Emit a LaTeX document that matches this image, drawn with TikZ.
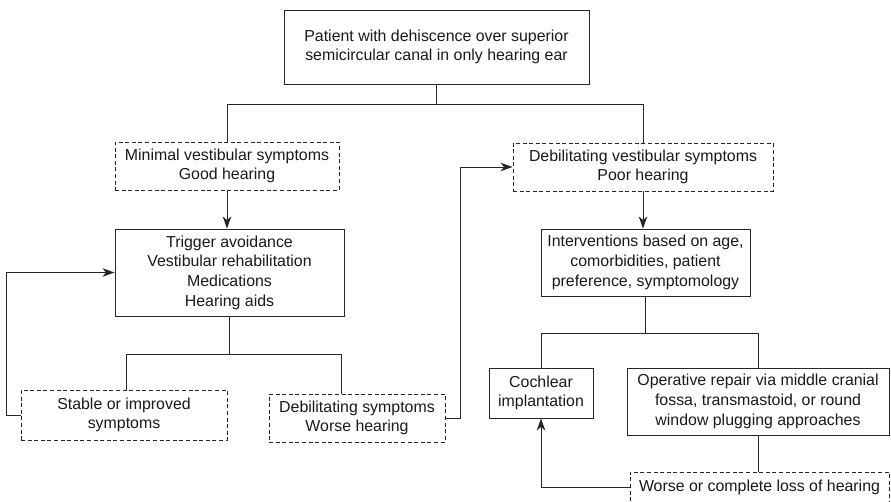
\documentclass[tikz,border=0pt]{standalone}
\usepackage{fontspec}
\setmainfont{Liberation Sans}
\usetikzlibrary{arrows.meta}

\begin{document}
\begin{tikzpicture}[
        x=1pt,
        y=-1pt,
        font=\fontsize{15.9}{19.7}\selectfont,
        line width=1pt,
        every node/.style={text=black!90, align=center, inner sep=0pt},
        solidbox/.style={draw=black!85, line width=0.95pt},
        dashbox/.style={draw=black!85, line width=0.95pt, dash pattern=on 4pt off 2.6pt},
        link/.style={draw=black!85, line width=1pt},
        flow/.style={draw=black!85, line width=1pt, -{Stealth[length=12pt,width=8.5pt,inset=3.5pt]}}
    ]
        \useasboundingbox (0,0) rectangle (891,501);

        % top of the tree
        \node[solidbox, minimum width=305pt, minimum height=74pt] (patient) at (436.5,47)
            {Patient with dehiscence over superior\\semicircular canal in only hearing ear};

        % the two presentations
        \node[dashbox, minimum width=224pt, minimum height=48pt] (mild) at (227,166)
            {Minimal vestibular symptoms\\Good hearing};
        \node[dashbox, minimum width=260pt, minimum height=48pt] (severe) at (643,167)
            {Debilitating vestibular symptoms\\Poor hearing};

        % left branch: conservative care
        \node[solidbox, minimum width=229pt, minimum height=87pt] (conserv) at (229.5,272.5)
            {Trigger avoidance\\Vestibular rehabilitation\\Medications\\Hearing aids};
        \node[dashbox, minimum width=206pt, minimum height=50pt] (stable) at (124,415)
            {Stable or improved\\symptoms};
        \node[dashbox, minimum width=176pt, minimum height=48pt] (worse) at (357,418)
            {Debilitating symptoms\\Worse hearing};

        % right branch: interventions
        \node[solidbox, minimum width=209pt, minimum height=67pt] (interv) at (645.5,262.5)
            {Interventions based on age,\\comorbidities, patient\\preference, symptomology};
        \node[solidbox, minimum width=104pt, minimum height=50pt] (cochlear) at (541,393)
            {Cochlear\\implantation};
        \node[solidbox, minimum width=262pt, minimum height=67pt] (repair) at (758,401.5)
            {Operative repair via middle cranial\\fossa, transmastoid, or round\\window plugging approaches};
        \node[dashbox, minimum width=259pt, minimum height=31pt] (loss) at (759.5,487.5)
            {Worse or complete loss of hearing};

        % connectors
        \draw[link] (patient.south) -- ++(0,20) -| (mild.north);
        \draw[link] (patient.south) -- ++(0,20) -| (severe.north);
        \draw[flow] (mild.south) -- (mild.south |- conserv.north);
        \draw[flow] (severe.south) -- (severe.south |- interv.north);

        \draw[link] (conserv.south) -- ++(0,38) -| ([xshift=2pt]stable.north);
        \draw[link] (conserv.south) -- ++(0,38) -| ([xshift=-16pt]worse.north);
        \draw[flow] (stable.west) -- ++(-14,0) |- (conserv.west);
        \draw[flow] (worse.east) -- ++(15,0) |- (severe.west);

        \draw[link] (interv.south) -- ++(0,37) -| (cochlear.north);
        \draw[link] (interv.south) -- ++(0,37) -| (repair.north);
        \draw[link] (repair.south) -- (repair.south |- loss.north);
        \draw[flow] (loss.west) -| (cochlear.south);
    \end{tikzpicture}
\end{document}
